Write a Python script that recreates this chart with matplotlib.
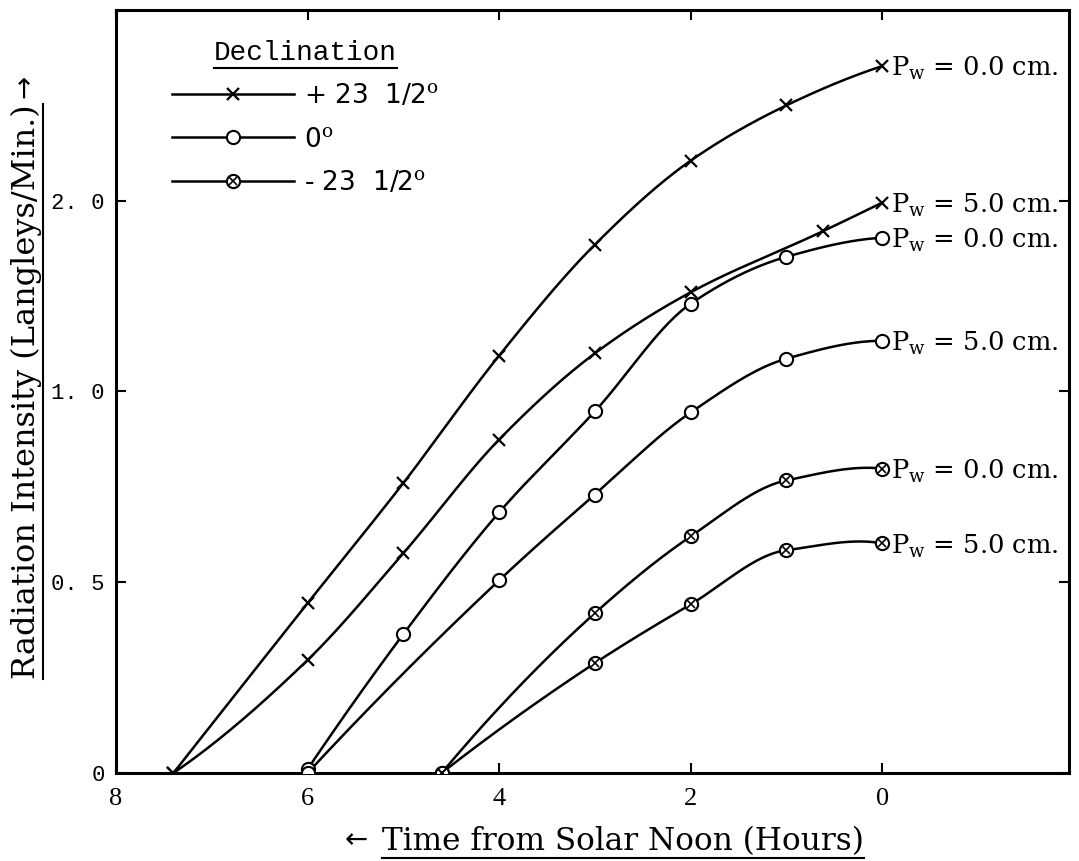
import numpy as np
import matplotlib.pyplot as plt
from matplotlib.lines import Line2D
from matplotlib.legend_handler import HandlerTuple

plt.rcParams['mathtext.fontset'] = 'dejavuserif'

# hours from solar noon / radiation intensity
# declination +23 1/2
hrs_n_dry = [7.4, 6, 5, 4, 3, 2, 1, 0]
val_n_dry = [0.0, 0.445, 0.76, 1.094, 1.385, 1.605, 1.75, 1.853]
hrs_n_wet = [7.4, 6, 5, 4, 3, 2, 0.62, 0]
val_n_wet = [0.0, 0.296, 0.576, 0.874, 1.10, 1.26, 1.42, 1.495]
# declination 0
hrs_e_dry = [6.0, 5, 4, 3, 2, 1, 0]
val_e_dry = [0.01, 0.364, 0.683, 0.948, 1.23, 1.353, 1.403]
hrs_e_wet = [6.0, 4, 3, 2, 1, 0]
val_e_wet = [0.0, 0.505, 0.730, 0.945, 1.086, 1.133]
# declination -23 1/2
hrs_s_dry = [4.6, 3, 2, 1, 0]
val_s_dry = [0.0, 0.419, 0.62, 0.767, 0.798]
hrs_s_wet = [4.6, 3, 2, 1, 0]
val_s_wet = [0.0, 0.288, 0.442, 0.584, 0.602]

curve_labels = ["P$_{\\mathrm{w}}$ = 0.0 cm.", "P$_{\\mathrm{w}}$ = 5.0 cm."]
x_ticks = [8, 6, 4, 2, 0]
y_ticks = [0, 0.5, 1.0, 1.5]
y_tick_labels = ["0", "0. 5", "1. 0", "2. 0"]
decl_labels = ["+ 23  1/2$^{\\mathrm{o}}$", "0$^{\\mathrm{o}}$", "- 23  1/2$^{\\mathrm{o}}$"]


def smooth(x, y, n=300):
    """monotone cubic (pchip) through the read points, just for drawing"""
    x = np.asarray(x, float)
    y = np.asarray(y, float)
    o = np.argsort(x)
    x, y = x[o], y[o]
    h = np.diff(x)
    d = np.diff(y) / h
    m = np.zeros_like(y)
    for k in range(1, len(x) - 1):
        if d[k - 1] * d[k] > 0:
            w1 = 2 * h[k] + h[k - 1]
            w2 = h[k] + 2 * h[k - 1]
            m[k] = (w1 + w2) / (w1 / d[k - 1] + w2 / d[k])
    m[0] = ((2 * h[0] + h[1]) * d[0] - h[0] * d[1]) / (h[0] + h[1])
    m[-1] = ((2 * h[-1] + h[-2]) * d[-1] - h[-1] * d[-2]) / (h[-1] + h[-2])
    xs = np.linspace(x[0], x[-1], n)
    i = np.clip(np.searchsorted(x, xs) - 1, 0, len(h) - 1)
    t = (xs - x[i]) / h[i]
    ys = ((2 * t**3 - 3 * t**2 + 1) * y[i] + (t**3 - 2 * t**2 + t) * h[i] * m[i]
          + (-2 * t**3 + 3 * t**2) * y[i + 1] + (t**3 - t**2) * h[i] * m[i + 1])
    return xs, ys


fig = plt.figure(figsize=(10.79, 8.61), dpi=100)
ax = fig.add_axes([0.1075, 0.1022, 0.8832, 0.8862])

lw = 1.8
ms_o = 9.5
series = [
    (hrs_n_dry, val_n_dry, 'x', 0), (hrs_n_wet, val_n_wet, 'x', 1),
    (hrs_e_dry, val_e_dry, 'o', 0), (hrs_e_wet, val_e_wet, 'o', 1),
    (hrs_s_dry, val_s_dry, 'ox', 0), (hrs_s_wet, val_s_wet, 'ox', 1),
]
for hx, hy, mk, lab in series:
    xs, ys = smooth(hx, hy)
    ax.plot(xs, ys, color='black', lw=lw, zorder=2)
    if mk == 'x':
        ax.plot(hx, hy, ls='none', marker='x', ms=8, mew=1.6, color='black', zorder=3)
    else:
        ax.plot(hx, hy, ls='none', marker='o', ms=ms_o, mew=1.5, mfc='white',
                mec='black', zorder=3)
        if mk == 'ox':
            ax.plot(hx, hy, ls='none', marker='x', ms=6, mew=1.2, color='black', zorder=4)
    ax.annotate(curve_labels[lab], xy=(hx[-1], hy[-1]), xytext=(6, -2),
                textcoords='offset points', ha='left', va='center',
                fontsize=18.5, family='DejaVu Serif', annotation_clip=False)

ax.set_xlim(8, -1.95)
ax.set_ylim(0, 2.0)
ax.set_xticks(x_ticks)
ax.set_xticklabels([str(v) for v in x_ticks], family='Liberation Serif', fontsize=19)
ax.set_yticks(y_ticks)
ax.set_yticklabels(y_tick_labels, family='Liberation Mono', fontsize=16)
ax.tick_params(direction='in', length=7, width=1.5, top=True, right=True)
ax.tick_params(axis='x', pad=11)
ax.tick_params(axis='y', pad=8)
for sp in ax.spines.values():
    sp.set_linewidth(2.2)

# legend
h1 = Line2D([], [], color='black', lw=lw, marker='x', ms=8, mew=1.6)
h2 = Line2D([], [], color='black', lw=lw, marker='o', ms=ms_o, mew=1.5, mfc='white')
h3a = Line2D([], [], color='black', lw=lw, marker='o', ms=ms_o, mew=1.5, mfc='white')
h3b = Line2D([], [], ls='none', color='black', marker='x', ms=6, mew=1.2)
leg = ax.legend([h1, h2, (h3a, h3b)], decl_labels,
                handler_map={tuple: HandlerTuple(ndivide=1)},
                loc='upper left', bbox_to_anchor=(0.034, 0.992), frameon=False,
                prop={'family': 'DejaVu Sans', 'size': 19}, handlelength=4.6,
                handletextpad=0.4, labelspacing=0.66,
                title='Declination', title_fontproperties={'family': 'Liberation Mono', 'size': 20})

ax.set_xlabel("Time from Solar Noon (Hours)", family='DejaVu Serif', fontsize=22.4)
ax.xaxis.set_label_coords(0.532, -0.07)
ax.set_ylabel("Radiation Intensity (Langleys/Min.)", family='DejaVu Serif', fontsize=23)
ax.yaxis.set_label_coords(-0.078, 0.5)

fig.canvas.draw()
r = fig.canvas.get_renderer()
inv = fig.transFigure.inverted()


def underline(txt, vertical=False, gap=3):
    bb = txt.get_window_extent(r)
    if vertical:
        (x0, y0), (x1, y1) = inv.transform([(bb.x1 + gap, bb.y0), (bb.x1 + gap, bb.y1)])
    else:
        (x0, y0), (x1, y1) = inv.transform([(bb.x0, bb.y0 - gap), (bb.x1, bb.y0 - gap)])
    fig.add_artist(Line2D([x0, x1], [y0, y1], color='black', lw=1.5))
    return bb


underline(leg.get_title(), gap=2)
bbx = underline(ax.xaxis.label, gap=1)
bby = underline(ax.yaxis.label, vertical=True, gap=1)

# arrows beside the axis titles
px, py = inv.transform((bbx.x0 - 14, (bbx.y0 + bbx.y1) / 2 + 2))
fig.text(px, py, "\u2190", ha='right', va='center', fontsize=20, family='DejaVu Sans')
qx, qy = inv.transform(((bby.x0 + bby.x1) / 2 - 2, bby.y1 + 6))
fig.text(qx, qy, "\u2192", ha='center', va='bottom', fontsize=20, rotation=90, family='DejaVu Sans')

fig.savefig('out.png', dpi=100)
